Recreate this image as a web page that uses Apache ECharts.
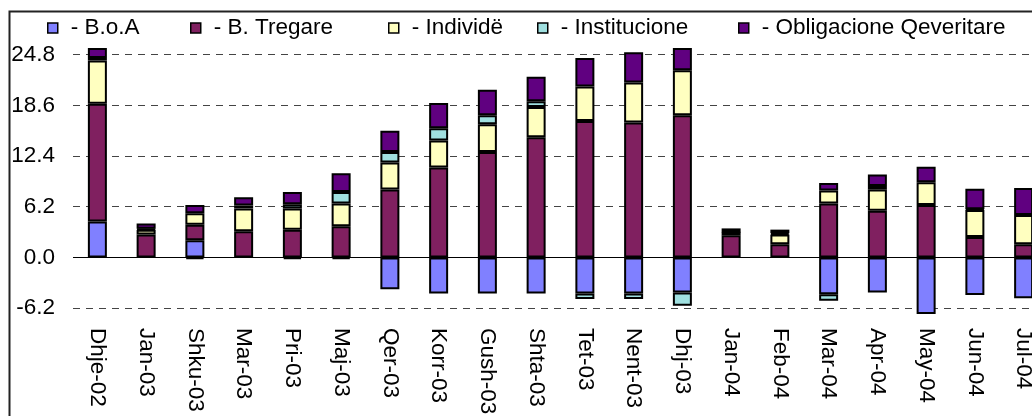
<!DOCTYPE html>
<html>
<head>
<meta charset="utf-8">
<script src="https://cdn.jsdelivr.net/npm/echarts@6/dist/echarts.min.js"></script>
<style>
html,body{margin:0;padding:0;background:#fff;}
#c{width:1032px;height:416px;}
</style>
</head>
<body>
<div id="c"></div>
<script>
const categories = ['Dhje-02','Jan-03','Shku-03','Mar-03','Pri-03','Maj-03','Qer-03','Korr-03','Gush-03','Shta-03','Tet-03','Nent-03','Dhj-03','Jan-04','Feb-04','Mar-04','Apr-04','May-04','Jun-04','Jul-04'];
const boa          = [4.4, null, 2.1, null, -0.2, -0.2, -3.9, -4.4, -4.4, -4.4, -4.4, -4.4, -4.3, null, null, -4.5, -4.3, -7.6, -4.6, -5.0];
const tregare      = [14.4, 2.8, 1.9, 3.2, 3.4, 3.8, 8.3, 11.0, 12.9, 14.7, 16.7, 16.5, 17.4, 2.7, 1.6, 6.6, 5.7, 6.4, 2.5, 1.6];
const individe     = [5.3, 0.6, 1.4, 2.8, 2.6, 2.8, 3.3, 3.3, 3.4, 3.7, 4.2, 4.9, 5.5, 0.4, 1.2, 1.6, 2.6, 2.8, 3.3, 3.6];
const institucione = [0.3, 0.1, -0.2, 0.35, 0.5, 1.4, 1.3, 1.5, 1.1, 0.7, -0.7, -0.7, -1.6, 0.05, 0.15, -0.8, 0.45, null, 0.1, null];
const obligacione  = [1.6, 0.65, 1.0, 1.0, 1.5, 2.3, 2.6, 3.1, 3.1, 3.0, 3.5, 3.7, 3.0, 0.4, 0.45, 0.9, 1.4, 1.9, 2.5, 3.3];
const yTicks = [-6.2, 0, 6.2, 12.4, 18.6, 24.8];
const seriesNames = ['- B.o.A', '- B. Tregare', '- Individë', '- Institucione', '- Obligacione Qeveritare'];
const seriesColors = ['#8080FF', '#802060', '#FFFFC0', '#A0E0E0', '#600080'];
const seriesData = [boa, tregare, individe, institucione, obligacione];
const legendLefts = [47, 190, 388, 537, 738];

const FONT = "'Liberation Sans', Arial, sans-serif";
const FS = 22.5;
const chart = echarts.init(document.getElementById('c'));

const gridLines = yTicks.filter(v => v !== 0).map(v => ({
  yAxis: v,
  lineStyle: { color: '#444', width: 1, type: [7, 6] }
}));
gridLines.push({ yAxis: 0, lineStyle: { color: '#000', width: 1, type: 'solid' } });

const series = seriesData.map((d, i) => ({
  name: seriesNames[i],
  type: 'bar',
  stack: 'total',
  barWidth: 19,
  data: d,
  itemStyle: { color: seriesColors[i], borderColor: '#000', borderWidth: 2 },
  emphasis: { disabled: true },
  animation: false
}));
series[0].markLine = {
  silent: true,
  symbol: 'none',
  z: 1,
  label: { show: false },
  animation: false,
  data: gridLines
};

const legends = seriesNames.map((n, i) => ({
  left: legendLefts[i],
  top: 16,
  padding: 0,
  itemWidth: 10,
  itemHeight: 10,
  icon: 'rect',
  selectedMode: false,
  itemStyle: { borderWidth: 1.5, borderColor: '#000' },
  textStyle: { fontFamily: FONT, fontSize: FS, color: '#000', padding: [0, 0, 0, 8], lineHeight: 24 },
  data: [n]
}));

chart.setOption({
  animation: false,
  textStyle: { fontFamily: FONT },
  legend: legends,
  grid: { left: 73, top: 49, width: 975, height: 264, containLabel: false, outerBoundsMode: 'none' },
  xAxis: {
    type: 'category',
    data: categories,
    axisLine: { show: false },
    axisTick: { show: false },
    axisLabel: { rotate: -90, interval: 0, margin: 15, fontSize: FS, color: '#000', fontFamily: FONT, hideOverlap: false }
  },
  yAxis: {
    type: 'value',
    min: -6.8,
    max: 25.5,
    axisLine: { show: false },
    axisTick: { show: false },
    splitLine: { show: false },
    axisLabel: {
      customValues: yTicks,
      margin: 18,
      fontSize: FS,
      color: '#000',
      fontFamily: FONT,
      formatter: v => Number(v).toFixed(1)
    }
  },
  graphic: [{
    type: 'rect',
    left: 7, top: 9,
    shape: { x: 0, y: 0, width: 1100, height: 600 },
    style: { fill: 'none', stroke: '#222', lineWidth: 2 },
    silent: true
  }],
  series: series
});
</script>
</body>
</html>
